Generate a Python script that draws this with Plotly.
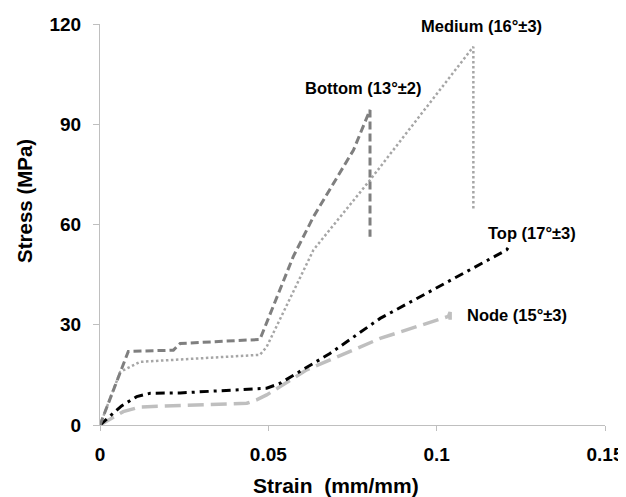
import plotly.graph_objects as go

# Data
bottom_x = [0, 0.0084, 0.0218, 0.0238, 0.0475, 0.0535, 0.0574, 0.0634, 0.0693, 0.0753, 0.0802, 0.0802]
bottom_y = [0, 22.0, 22.4, 24.4, 25.6, 40.4, 50.4, 62.3, 72.3, 82.3, 94.3, 56.3]

medium_x = [0, 0.006, 0.0119, 0.0300, 0.0475, 0.0495, 0.0634, 0.0802, 0.1109, 0.1109]
medium_y = [0, 15.9, 18.9, 20.0, 21.0, 23.4, 52.4, 73.3, 113.2, 64.3]

top_x = [0, 0.0039, 0.0064, 0.0109, 0.0149, 0.0238, 0.0495, 0.0535, 0.0683, 0.0832, 0.1208, 0.1215]
top_y = [0, 3.6, 5.7, 8.5, 9.5, 9.6, 11.0, 12.5, 21.4, 31.9, 52.4, 53.5]

node_x = [0, 0.0069, 0.0119, 0.0436, 0.0465, 0.0495, 0.0614, 0.0832, 0.1035, 0.104, 0.104]
node_y = [0, 4.0, 5.4, 6.5, 7.5, 9.0, 16.5, 25.9, 32.5, 33.8, 30.8]

labels = ["Bottom (13°±2)", "Medium (16°±3)", "Top (17°±3)", "Node (15°±3)"]
label_x = [0.0784, 0.1132, 0.1283, 0.1239]
label_y = [100.8, 119.4, 57.5, 32.9]

x_ticks = [0, 0.05, 0.1, 0.15]
x_tick_text = ["0", "0.05", "0.1", "0.15"]
y_ticks = [0, 30, 60, 90, 120]

FONT = "Liberation Sans, Arial, sans-serif"

fig = go.Figure()
fig.add_trace(go.Scatter(x=node_x, y=node_y, mode="lines",
                         line=dict(color="#BFBFBF", width=3.5, dash="16px,7px")))
fig.add_trace(go.Scatter(x=top_x, y=top_y, mode="lines",
                         line=dict(color="#000000", width=3, dash="9px,5px,3px,5px")))
fig.add_trace(go.Scatter(x=medium_x, y=medium_y, mode="lines",
                         line=dict(color="#A6A6A6", width=2.5, dash="2.5px,2.5px")))
fig.add_trace(go.Scatter(x=bottom_x, y=bottom_y, mode="lines",
                         line=dict(color="#7F7F7F", width=3, dash="8px,4px")))

for t, x, y in zip(labels, label_x, label_y):
    fig.add_annotation(x=x, y=y, xref="x", yref="y", text=f"<b>{t}</b>",
                       showarrow=False, font=dict(family=FONT, size=16.5, color="#000"))

# Axis titles (positioned relative to the plot area: x 100..605 px, y 24..425 px)
fig.add_annotation(xref="paper", yref="paper", x=(336 - 100) / 505, y=(425 - 485) / 401,
                   text="<b>Strain\u00a0 (mm/mm)</b>", showarrow=False,
                   xanchor="center", yanchor="middle",
                   font=dict(family=FONT, size=21, color="#000"))
fig.add_annotation(xref="paper", yref="paper", x=(24 - 100) / 505, y=(425 - 201) / 401,
                   text="<b>Stress (MPa)</b>", textangle=-90, showarrow=False,
                   xanchor="center", yanchor="middle",
                   font=dict(family=FONT, size=20.5, color="#000"))

# page body has an 8px margin, so figure origin sits at (8, 8)
fig.update_layout(
    width=618, height=489,
    margin=dict(l=92, r=21, t=16, b=72, autoexpand=False),
    paper_bgcolor="white", plot_bgcolor="white",
    showlegend=False,
    font=dict(family=FONT, color="#000"),
    xaxis=dict(range=[0, 0.15], tickvals=x_ticks, ticktext=[f"<b>{s}</b>" for s in x_tick_text],
               showgrid=False, zeroline=False, showline=True, linecolor="#BFBFBF", linewidth=1.2,
               ticks="outside", ticklen=5, tickcolor="#BFBFBF", tickwidth=1.2,
               tickfont=dict(family=FONT, size=19, color="#000"), ticklabelstandoff=7),
    yaxis=dict(range=[0, 120], tickvals=y_ticks, ticktext=[f"<b>{v}</b>" for v in y_ticks],
               showgrid=False, zeroline=False, showline=True, linecolor="#BFBFBF", linewidth=1.2,
               ticks="outside", ticklen=6, tickcolor="#BFBFBF", tickwidth=1.2,
               tickfont=dict(family=FONT, size=19, color="#000"), ticklabelstandoff=8),
)

fig.write_html("out.html")
